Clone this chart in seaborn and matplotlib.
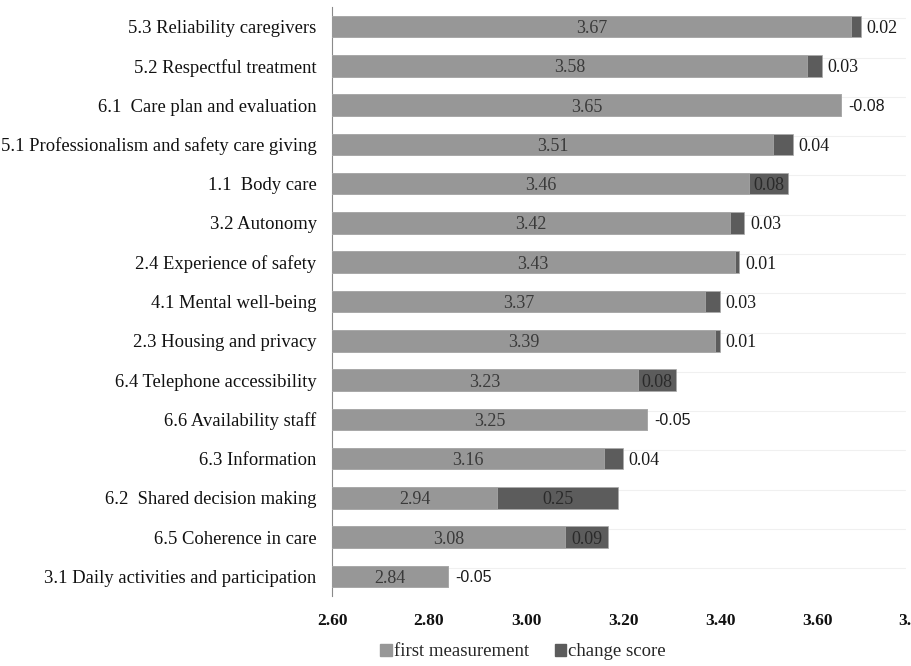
import matplotlib
matplotlib.use("Agg")
import matplotlib.pyplot as plt
import matplotlib.patches as mpatches
import pandas as pd
import seaborn as sns

# Quality-of-care domains, first measurement and change between measurements
categories = [
    "5.3 Reliability caregivers",
    "5.2 Respectful treatment",
    "6.1  Care plan and evaluation",
    "5.1 Professionalism and safety care giving",
    "1.1  Body care",
    "3.2 Autonomy",
    "2.4 Experience of safety",
    "4.1 Mental well-being",
    "2.3 Housing and privacy",
    "6.4 Telephone accessibility",
    "6.6 Availability staff",
    "6.3 Information",
    "6.2  Shared decision making",
    "6.5 Coherence in care",
    "3.1 Daily activities and participation",
]
first_measurement = [3.67, 3.58, 3.65, 3.51, 3.46, 3.42, 3.43, 3.37, 3.39,
                     3.23, 3.25, 3.16, 2.94, 3.08, 2.84]
change_score = [0.02, 0.03, -0.08, 0.04, 0.08, 0.03, 0.01, 0.03, 0.01,
                0.08, -0.05, 0.04, 0.25, 0.09, -0.05]
x_ticks = [2.60, 2.80, 3.00, 3.20, 3.40, 3.60, 3.80]

LIGHT = "#979797"
DARK = "#5c5c5c"
SERIF = "Liberation Serif"

df = pd.DataFrame({
    "category": categories,
    "first": first_measurement,
    "change": change_score,
})
# stacked total: a negative change adds nothing to the right of the bar
df["total"] = df["first"] + df["change"].clip(lower=0)

sns.set_theme(style="white")
plt.rcParams["font.family"] = [SERIF, "DejaVu Serif"]

fig = plt.figure(figsize=(9.11, 6.66), dpi=100)
ax = fig.add_axes([332 / 911, 1 - 596 / 666, 582 / 911, 589 / 666])

# faint separators across the plot area
for i in range(len(categories)):
    ax.axhline(i - 0.21, xmax=0.985, color="#f0f0f0", lw=0.8, zorder=0)

sns.barplot(data=df, x="total", y="category", orient="h", color=DARK,
            width=0.55, saturation=1, edgecolor="#a9a9a9", linewidth=0.5,
            ax=ax, zorder=2)
sns.barplot(data=df, x="first", y="category", orient="h", color=LIGHT,
            width=0.55, saturation=1, edgecolor="#adadad", linewidth=0.5,
            ax=ax, zorder=3)

x_min, x_max = x_ticks[0], x_ticks[-1]
ax.set_xlim(x_min, x_max)
ax.set_ylim(len(categories) - 0.5, -0.5)

# value labels
for i, (f, c) in enumerate(zip(first_measurement, change_score)):
    ax.text((x_min + f) / 2, i, f"{f:.2f}", ha="center", va="center_baseline",
            fontsize=13, color="#3a3a3a", zorder=5, family=SERIF)
    if c >= 0.07:
        ax.text(f + c / 2, i, f"{c:.2f}", ha="center", va="center_baseline",
                fontsize=13, color="#2a2a2a", zorder=5, family=SERIF)
    elif c > 0:
        ax.text(f + c + 0.012, i, f"{c:.2f}", ha="left", va="center_baseline",
                fontsize=13, color="#1a1a1a", zorder=5, family=SERIF)
    else:
        ax.text(f + 0.014, i, f"{c:.2f}", ha="left", va="center_baseline",
                fontsize=11.5, color="#1a1a1a", zorder=5,
                family="Liberation Sans")

ax.set_xticks(x_ticks)
ax.set_xticklabels([f"{t:.2f}" for t in x_ticks], fontsize=12.5,
                   fontweight="bold", color="#111111")
ax.set_yticks(range(len(categories)))
ax.set_yticklabels(categories, fontsize=13.4, color="#111111")
ax.tick_params(axis="x", length=0, pad=12)
ax.tick_params(axis="y", length=0, pad=11)
ax.set_xlabel("")
ax.set_ylabel("")

for side in ["top", "right", "bottom"]:
    ax.spines[side].set_visible(False)
ax.spines["left"].set_color("#8a8a8a")
ax.spines["left"].set_linewidth(0.8)
ax.grid(False)

handles = [mpatches.Patch(color=LIGHT, label="first measurement"),
           mpatches.Patch(color=DARK, label="change score")]
fig.legend(handles=handles, loc="center", bbox_to_anchor=(523 / 911, 1 - 652 / 666),
           ncol=2, frameon=False, fontsize=13.5, handlelength=0.6,
           handleheight=0.6, handletextpad=0.1, columnspacing=1.4)

fig.savefig("out.png", dpi=100)
